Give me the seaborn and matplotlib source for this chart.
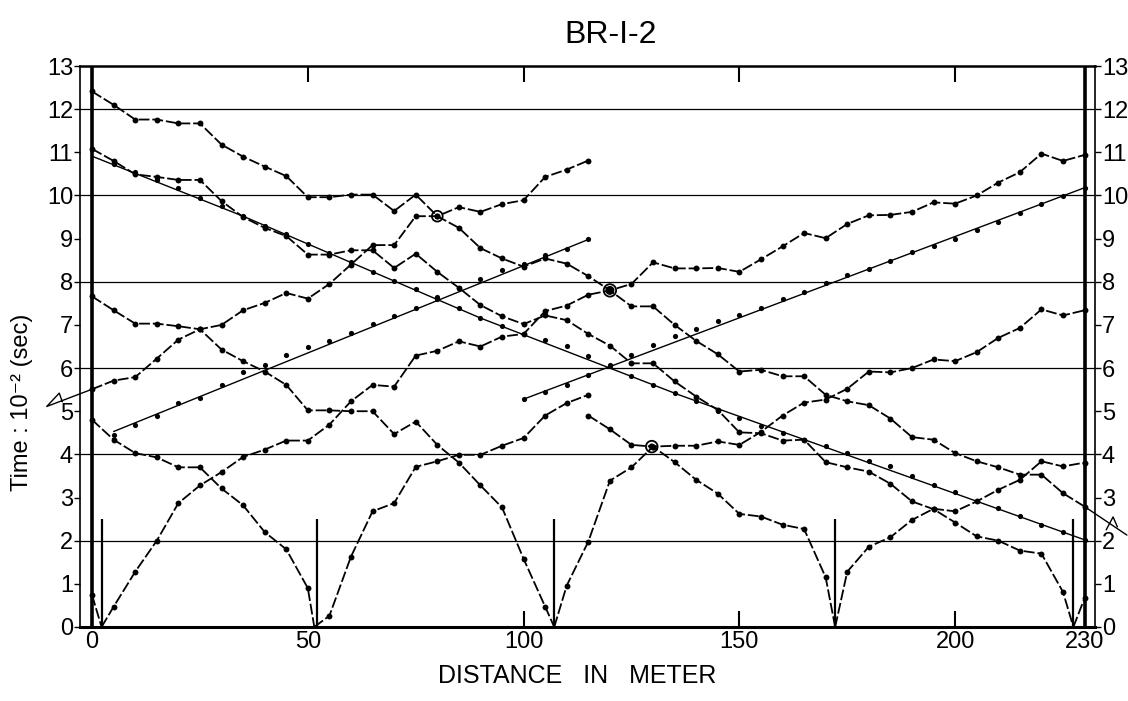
import matplotlib
matplotlib.use('Agg')
import numpy as np
import pandas as pd
import seaborn as sns
import matplotlib.pyplot as plt

# geophone positions (m), every 5 m along the line
geo = list(range(0, 235, 5))

# shot points (m)
shots = [2.2, 52.2, 107.1, 172.2, 227.4]

# first arrivals, time in 1/100 s
far_right_t = [12.41, 12.10, 11.76, 11.76, 11.67, 11.67, 11.18, 10.90, 10.67, 10.45,
               9.96, 9.96, 10.02, 10.02, 9.64, 10.02, 9.52, 9.25, 8.78, 8.54,
               8.35, 8.54, 8.42, 8.13, 7.80, 7.43, 7.43, 7.00, 6.63, 6.32,
               5.92, 5.96, 5.81, 5.81, 5.38, 5.23, 5.14, 4.83, 4.40, 4.34,
               4.03, 3.84, 3.70, 3.53, 3.53, 3.10, 2.79]

s228_left_x = geo[:46] + [227.4]
s228_left_t = [11.08, 10.80, 10.49, 10.43, 10.36, 10.36, 9.87, 9.50, 9.25, 9.06,
               8.63, 8.63, 8.73, 8.73, 8.32, 8.65, 8.23, 7.86, 7.46, 7.20,
               7.02, 7.22, 7.11, 6.79, 6.52, 6.11, 6.11, 5.69, 5.34, 5.03,
               4.51, 4.49, 4.32, 4.34, 3.82, 3.70, 3.60, 3.32, 2.91, 2.73,
               2.42, 2.10, 2.00, 1.77, 1.70, 0.81, 0.0]
s228_right_x = [227.4, 230]
s228_right_t = [0.0, 0.67]

s2_left_x = [0, 2.2]
s2_left_t = [0.74, 0.0]
s2_right_x = [2.2] + geo[1:]
s2_right_t = [0.0, 0.47, 1.28, 2.00, 2.87, 3.28, 3.59, 3.94, 4.11, 4.32,
              4.32, 4.69, 5.23, 5.61, 5.57, 6.29, 6.40, 6.62, 6.50, 6.73,
              6.79, 7.32, 7.45, 7.70, 7.80, 7.95, 8.45, 8.31, 8.31, 8.32,
              8.23, 8.52, 8.82, 9.13, 9.01, 9.34, 9.54, 9.55, 9.62, 9.84,
              9.81, 10.00, 10.30, 10.54, 10.97, 10.80, 10.94]

far_left_x = geo[:24]
far_left_t = [5.51, 5.71, 5.79, 6.22, 6.66, 6.90, 7.00, 7.34, 7.51, 7.74,
              7.61, 7.95, 8.40, 8.85, 8.85, 9.52, 9.52, 9.73, 9.62, 9.80,
              9.89, 10.43, 10.60, 10.81]

s107_left_x = geo[:22] + [107.1]
s107_left_t = [7.66, 7.34, 7.03, 7.03, 6.97, 6.90, 6.43, 6.16, 5.92, 5.61,
               5.02, 5.02, 5.00, 5.00, 4.47, 4.76, 4.22, 3.81, 3.28, 2.77,
               1.58, 0.47, 0.0]
s107_right_x = [107.1] + geo[22:]
s107_right_t = [0.0, 0.96, 1.98, 3.39, 3.70, 4.18, 4.20, 4.20, 4.30, 4.22,
                4.52, 4.90, 5.20, 5.27, 5.52, 5.92, 5.90, 6.00, 6.20, 6.16,
                6.37, 6.70, 6.93, 7.36, 7.22, 7.34]

s51_left_x = geo[:11] + [51.5]
s51_left_t = [4.80, 4.34, 4.03, 3.93, 3.70, 3.70, 3.21, 2.82, 2.20, 1.80, 0.90, 0.0]
s51_right_x = [51.5] + geo[11:24]
s51_right_t = [0.0, 0.26, 1.63, 2.68, 2.87, 3.71, 3.84, 3.99, 3.99, 4.20, 4.38, 4.90, 5.19, 5.38]

s172_left_x = geo[23:35] + [172.2]
s172_left_t = [4.90, 4.58, 4.22, 4.18, 3.82, 3.41, 3.09, 2.62, 2.56, 2.37, 2.27, 1.15, 0.0]
s172_right_x = [172.2] + geo[35:]
s172_right_t = [0.0, 1.28, 1.86, 2.08, 2.48, 2.74, 2.68, 2.91, 3.18, 3.41, 3.84, 3.72, 3.81]

# fitted straight lines and the picks along them
line1_x = [0, 35, 90, 136, 230]
line1_t = [10.91, 9.52, 7.16, 5.38, 2.02]
line1_pick_x = geo[1:]
line1_pick_t = [10.72, 10.55, 10.35, 10.18, 9.95, 9.75, 9.52, 9.30, 9.10, 8.88,
                8.67, 8.45, 8.23, 8.02, 7.83, 7.60, 7.40, 7.16, 6.97, 6.79,
                6.66, 6.52, 6.27, 6.04, 5.81, 5.61, 5.42, 5.23, 5.00, 4.85,
                4.66, 4.50, 4.34, 4.20, 4.03, 3.84, 3.72, 3.49, 3.29, 3.12,
                2.93, 2.75, 2.58, 2.37, 2.21, 2.02]

line2_x = [5, 115]
line2_t = [4.53, 8.98]
line2_pick_x = geo[1:24]
line2_pick_t = [4.45, 4.69, 4.88, 5.19, 5.31, 5.61, 5.91, 6.08, 6.31, 6.50,
                6.62, 6.81, 7.02, 7.20, 7.39, 7.65, 7.86, 8.07, 8.27, 8.42,
                8.63, 8.75, 8.98]

line3_x = [100, 230]
line3_t = [5.28, 10.18]
line3_pick_x = geo[20:]
line3_pick_t = [5.28, 5.44, 5.60, 5.85, 6.08, 6.30, 6.54, 6.75, 6.90, 7.08,
                7.22, 7.39, 7.60, 7.77, 7.97, 8.15, 8.30, 8.48, 8.69, 8.82,
                9.00, 9.19, 9.38, 9.60, 9.81, 9.98, 10.18]

# extrapolations running past the frame, with their small hooks
ext_left_x = [0, -10.5, -7.6, -6.9]
ext_left_t = [5.51, 5.11, 5.42, 5.22]
ext_right_x = [230, 239.8]
ext_right_t = [2.79, 2.13]
hook_right_x = [235.0, 236.6, 237.6]
hook_right_t = [2.25, 2.55, 2.32]

# reciprocal-time check points
check_x = [80, 120, 129.7]
check_t = [9.52, 7.80, 4.18]

curves = {
    'far_right': (geo, far_right_t), 's228_l': (s228_left_x, s228_left_t),
    's228_r': (s228_right_x, s228_right_t), 's2_l': (s2_left_x, s2_left_t),
    's2_r': (s2_right_x, s2_right_t), 'far_left': (far_left_x, far_left_t),
    's107_l': (s107_left_x, s107_left_t), 's107_r': (s107_right_x, s107_right_t),
    's51_l': (s51_left_x, s51_left_t), 's51_r': (s51_right_x, s51_right_t),
    's172_l': (s172_left_x, s172_left_t), 's172_r': (s172_right_x, s172_right_t),
}
df = pd.concat([pd.DataFrame({'x': xs, 't': ts, 'curve': k}) for k, (xs, ts) in curves.items()],
               ignore_index=True)
picks = df[df['t'] > 0]

fits = pd.concat([pd.DataFrame({'x': xs, 't': ts, 'curve': k}) for k, (xs, ts) in
                  {'l1': (line1_x, line1_t), 'l2': (line2_x, line2_t), 'l3': (line3_x, line3_t)}.items()],
                 ignore_index=True)
fit_picks = pd.DataFrame({'x': line1_pick_x + line2_pick_x + line3_pick_x,
                          't': line1_pick_t + line2_pick_t + line3_pick_t})

sns.set_theme(style='white')
plt.rcParams['font.family'] = ['Liberation Sans', 'DejaVu Sans']
plt.rcParams['text.color'] = 'black'
plt.rcParams['axes.labelcolor'] = 'black'
plt.rcParams['xtick.color'] = 'black'
plt.rcParams['ytick.color'] = 'black'

fig = plt.figure(figsize=(11.28, 7.01), dpi=100)
ax = fig.add_axes([0.0709, 0.1056, 0.8998, 0.8002])

# horizontal guide lines at even times
for g in range(2, 13, 2):
    ax.axhline(g, color='black', lw=0.9, zorder=1)

sns.lineplot(data=df, x='x', y='t', units='curve', estimator=None, sort=False,
             color='black', lw=1.3, linestyle=(0, (6, 1.6)), ax=ax, zorder=3)
sns.scatterplot(data=picks, x='x', y='t', color='black', s=18, edgecolor='black',
                linewidth=0, ax=ax, zorder=4)
sns.lineplot(data=fits, x='x', y='t', units='curve', estimator=None, sort=False,
             color='black', lw=1.0, ax=ax, zorder=3)
sns.scatterplot(data=fit_picks, x='x', y='t', color='black', s=14, linewidth=0, ax=ax, zorder=4)

ax.plot(ext_left_x, ext_left_t, color='black', lw=1.0, clip_on=False)
ax.plot(ext_right_x, ext_right_t, color='black', lw=1.0, clip_on=False)
ax.plot(hook_right_x, hook_right_t, color='black', lw=1.0, clip_on=False)

ax.scatter(check_x, check_t, s=[60, 80, 70], facecolor='none', edgecolor='black',
           linewidth=1.3, zorder=5)
ax.scatter(check_x[1:], check_t[1:], s=[30, 12], color='black', zorder=5)

# shot marks
ax.vlines(shots, 0, 2.5, color='black', lw=1.6, zorder=3)

# thick lines at the ends of the spread
ax.vlines([0, 230], 0, 13, color='black', lw=2.6, zorder=2)

# small inside ticks
ax.vlines([50, 100, 150, 200], 13 - 0.38, 13, color='black', lw=1.5)
ax.vlines([100, 150, 200], 0, 0.38, color='black', lw=1.5)

ax.set_xlim(-2.8, 232.4)
ax.set_ylim(0, 13)

ax.set_xticks([0, 50, 100, 150, 200, 230])
ax.set_xticklabels(['0', '50', '100', '150', '200', '230'], fontsize=17)
ax.tick_params(axis='x', length=0, pad=3)
ax.set_yticks(range(14))
ax.set_yticklabels([str(v) for v in range(14)], fontsize=17)
ax.tick_params(axis='y', which='both', left=True, right=True, labelleft=True, labelright=True,
               direction='out', length=4, width=1, pad=1, color='black')

for side in ['left', 'right', 'top']:
    ax.spines[side].set_color('black')
    ax.spines[side].set_linewidth(1.2)
ax.spines['bottom'].set_color('black')
ax.spines['bottom'].set_linewidth(2.2)
ax.spines['top'].set_linewidth(1.8)

ax.set_xlabel('DISTANCE   IN   METER', fontsize=18)
ax.xaxis.set_label_coords(0.49, -0.066)
ax.set_ylabel('Time : 10⁻² (sec)', fontsize=17)
ax.yaxis.set_label_coords(-0.046, 0.40)

fig.text(611 / 1128, 1 - 35 / 701, 'BR-I-2', ha='center', va='center', fontsize=23)

fig.savefig('out.png', dpi=100, facecolor='white')
